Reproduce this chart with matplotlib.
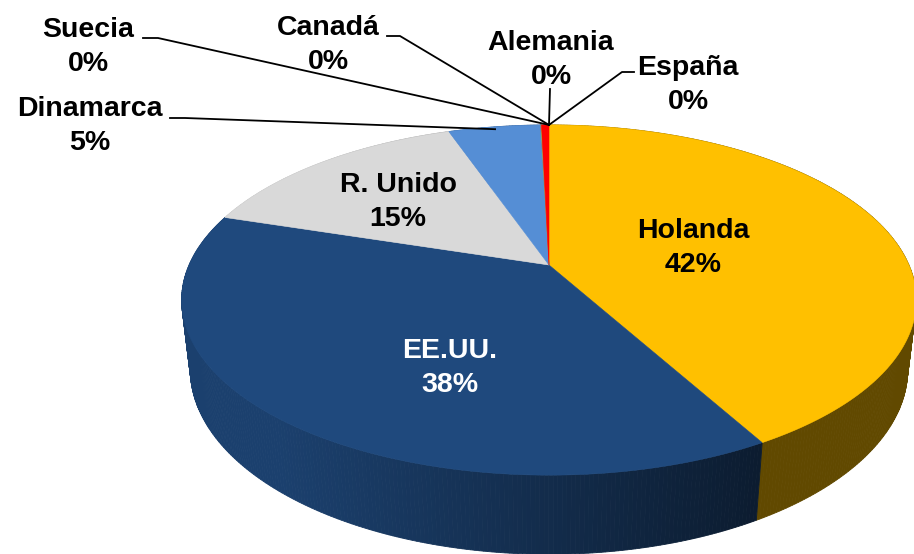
import numpy as np
import matplotlib.pyplot as plt
from matplotlib.patches import Polygon
from matplotlib.colors import to_rgb

# Data
paises = ['Holanda', 'EE.UU.', 'R. Unido', 'Dinamarca', 'Suecia', 'Canadá', 'Alemania', 'España']
valores = [41.9, 38.0, 14.8, 4.9, 0.02, 0.02, 0.03, 0.4]
colores = ['#FFC000', '#1F497D', '#D9D9D9', '#558ED5', '#4BACC6', '#8064A2', '#9BBB59', '#FF0000']
texto_color = ['black', 'white', 'black', 'black', 'black', 'black', 'black', 'black']

# label layout (pixel positions) and leader-line start points
label_xy = [(693, 248), (450, 368), (398, 202), (90, 126), (88, 47), (328, 45), (551, 60), (688, 85)]
leader_start = [None, None, None, [(170, 118), (185, 118)], [(143, 38), (158, 38)],
                [(387, 36), (400, 36)], [(550, 89)], [(634, 72), (622, 72)]]

# 3D view parameters
cx, cy = 549, 265
D, F = 4.42, 1591
phi = np.arcsin(0.467)
c, s = np.cos(phi), np.sin(phi)
h = 0.22


def proj(theta, z=0.0, r=1.0):
    x = r * np.cos(theta)
    y = r * np.sin(theta)
    depth = D + y * c - z * s
    return cx + F * x / depth, cy - F * (y * s + z * c) / depth


total = sum(valores)
fracs = [v / total for v in valores]
starts = []
a = np.pi / 2
for f in fracs:
    starts.append((a, a - 2 * np.pi * f))
    a -= 2 * np.pi * f

fig = plt.figure(figsize=(9.14, 5.54), dpi=100)
ax = fig.add_axes([0, 0, 1, 1])
ax.set_xlim(0, 914)
ax.set_ylim(554, 0)
ax.axis('off')

# side walls, darker towards the right
quads = []
for (t0, t1), col in zip(starts, colores):
    n = max(2, int(abs(t1 - t0) / 0.01))
    th = np.linspace(t0, t1, n + 1)
    rgb = np.array(to_rgb(col))
    for i in range(n):
        tm = 0.5 * (th[i] + th[i + 1])
        xm = proj(tm, -h / 2)[0]
        k = 0.38 + 0.5 * np.clip((760 - xm) / 480, 0, 1)
        pts = [proj(th[i]), proj(th[i + 1]), proj(th[i + 1], -h), proj(th[i], -h)]
        quads.append((np.sin(tm), pts, np.clip(rgb * k, 0, 1)))
quads.sort(key=lambda q: -q[0])
for _, pts, col in quads:
    ax.add_patch(Polygon(pts, closed=True, facecolor=col, edgecolor=col, linewidth=0.6))

# top faces
for (t0, t1), col in zip(starts, colores):
    n = max(2, int(abs(t1 - t0) / 0.01))
    th = np.linspace(t0, t1, n + 1)
    pts = [proj(0, 0, 0)] + [proj(t) for t in th]
    ax.add_patch(Polygon(pts, closed=True, facecolor=col, edgecolor=col, linewidth=0.4))

# labels
for i, name in enumerate(paises):
    pct = round(fracs[i] * 100)
    x, y = label_xy[i]
    ax.text(x, y, f'{name}\n{pct}%', ha='center', va='center', fontsize=20.5,
            fontweight='bold', family='Liberation Sans', color=texto_color[i],
            linespacing=1.42)
    if leader_start[i] is not None:
        if fracs[i] > 0.01:
            ax_, ay_ = proj(0.5 * (starts[i][0] + starts[i][1]), 0, 0.98)
        else:
            ax_, ay_ = proj(np.pi / 2)
        xs = [p[0] for p in leader_start[i]] + [ax_]
        ys = [p[1] for p in leader_start[i]] + [ay_]
        ax.plot(xs, ys, color='black', linewidth=1.3)

fig.savefig('out.png', dpi=100)
